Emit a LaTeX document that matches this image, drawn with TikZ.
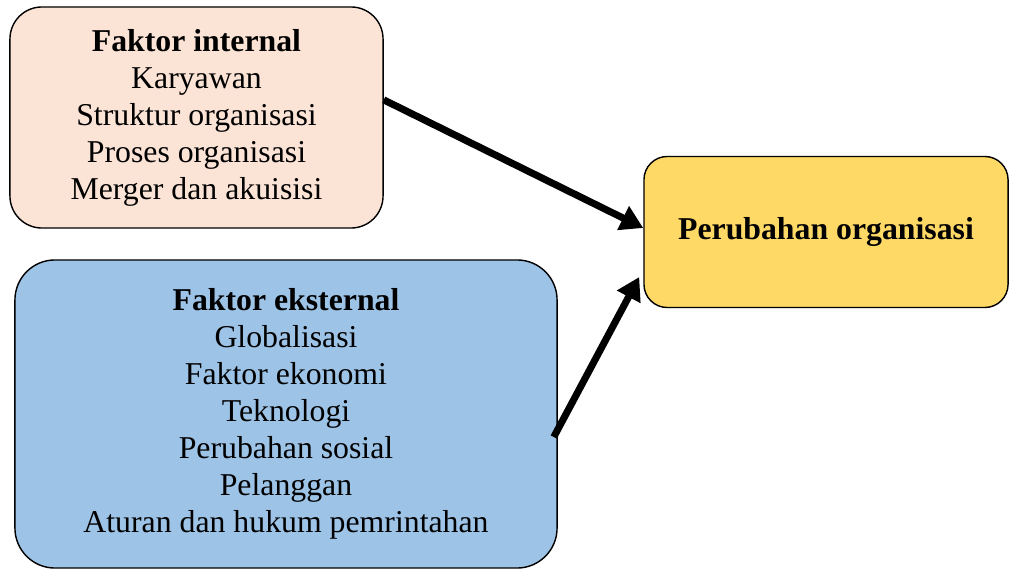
\documentclass[tikz,border=0pt]{standalone}
\usepackage{fontspec}
\setmainfont{Liberation Serif}
\usetikzlibrary{arrows.meta}
\definecolor{peach}{HTML}{FBE3D6}
\definecolor{skyblue}{HTML}{9DC3E6}
\definecolor{gold}{HTML}{FFD966}
\tikzset{
	factorbox/.style={draw=black, line width=1pt, align=center, inner sep=0pt,
		font=\fontsize{22.6}{26.3}\selectfont},
	arrowline/.style={black, line width=5pt, -{Triangle[length=16pt, width=18pt]}}
}

\begin{document}
\begin{tikzpicture}[x=0.025cm, y=-0.025cm]
\useasboundingbox (0,0) rectangle (1010,570);
\node[factorbox, fill=peach, rounded corners=0.8cm, minimum width=9.325cm, minimum height=5.525cm] (int) at (196.5,117.5)
	{\textbf{Faktor internal}\\Karyawan\\Struktur organisasi\\Proses organisasi\\Merger dan akuisisi};
\node[factorbox, fill=skyblue, rounded corners=1cm, minimum width=13.55cm, minimum height=7.7cm] (ext) at (286,414)
	{\textbf{Faktor eksternal}\\Globalisasi\\Faktor ekonomi\\Teknologi\\Perubahan sosial\\Pelanggan\\Aturan dan hukum pemrintahan};
\node[factorbox, fill=gold, rounded corners=0.58cm, minimum width=9.1cm, minimum height=3.775cm] (per) at (826,232)
	{\textbf{Perubahan organisasi}};
\draw[arrowline] ([yshift=0.44cm]int.east) -- ([yshift=0.1cm]per.west);
\draw[arrowline] ([xshift=-0.1cm, yshift=-0.575cm]ext.east) -- ([xshift=-0.1cm, yshift=-1.125cm]per.west);
\end{tikzpicture}
\end{document}
